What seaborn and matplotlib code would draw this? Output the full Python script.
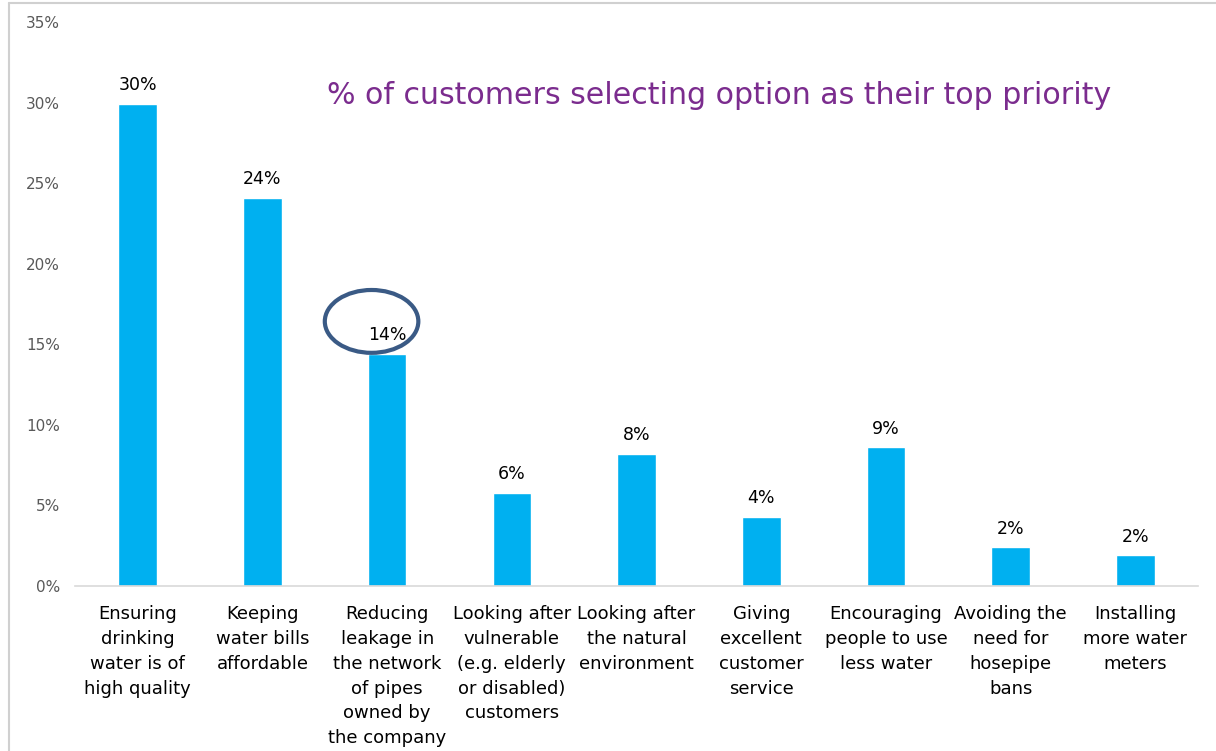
import numpy as np
import pandas as pd
import matplotlib.pyplot as plt
import seaborn as sns
from matplotlib.patches import Ellipse
from matplotlib.lines import Line2D
from matplotlib.ticker import PercentFormatter

categories = [
    "Ensuring\ndrinking\nwater is of\nhigh quality",
    "Keeping\nwater bills\naffordable",
    "Reducing\nleakage in\nthe network\nof pipes\nowned by\nthe company",
    "Looking after\nvulnerable\n(e.g. elderly\nor disabled)\ncustomers",
    "Looking after\nthe natural\nenvironment",
    "Giving\nexcellent\ncustomer\nservice",
    "Encouraging\npeople to use\nless water",
    "Avoiding the\nneed for\nhosepipe\nbans",
    "Installing\nmore water\nmeters",
]
share = [29.9, 24.1, 14.4, 5.8, 8.2, 4.3, 8.6, 2.4, 1.9]

df = pd.DataFrame({"option": categories, "share": share})

sns.set_theme(style="white")
plt.rcParams["font.family"] = ["DejaVu Sans"]

fig = plt.figure(figsize=(12.16, 7.51), dpi=100)
ax = fig.add_axes([0.062, 0.2197, 0.923, 0.751])

sns.barplot(data=df, x="option", y="share", color="#00B0F0", saturation=1,
            width=0.31, ax=ax)

ax.set_ylim(0, 35)
ax.set_yticks(np.arange(0, 36, 5))
ax.yaxis.set_major_formatter(PercentFormatter(decimals=0))
ax.tick_params(axis="y", labelsize=11, labelcolor="#595959", length=0, pad=11)
ax.tick_params(axis="x", labelsize=13, labelcolor="#000000", length=0, pad=14)
for lab in ax.get_xticklabels():
    lab.set_linespacing(1.48)
ax.set_xlabel("")
ax.set_ylabel("")
for s in ["top", "right", "left"]:
    ax.spines[s].set_visible(False)
ax.spines["bottom"].set_color("#D9D9D9")
ax.spines["bottom"].set_linewidth(1.2)

# value labels above bars
for i, v in enumerate(share):
    ax.annotate(f"{v:.0f}%", (i, v), xytext=(0, 7), textcoords="offset points",
                ha="center", va="bottom", fontsize=12.5, color="#000000")

fig.text(0.269, 0.873, "% of customers selecting option as their top priority",
         ha="left", va="center", fontsize=21.6, color="#7B2C8E")

# highlight ellipse around the leakage label
ell = Ellipse((1.875, 16.42), width=0.75, height=3.9, fill=False,
              edgecolor="#3A5A85", linewidth=3)
ax.add_patch(ell)

# document frame lines
fig.add_artist(Line2D([0.0074, 0.0074], [0, 0.996], color="#D0D0D0", lw=1.5))
fig.add_artist(Line2D([0.0074, 1], [0.996, 0.996], color="#D0D0D0", lw=1.5))

fig.savefig("out.png", dpi=100)
